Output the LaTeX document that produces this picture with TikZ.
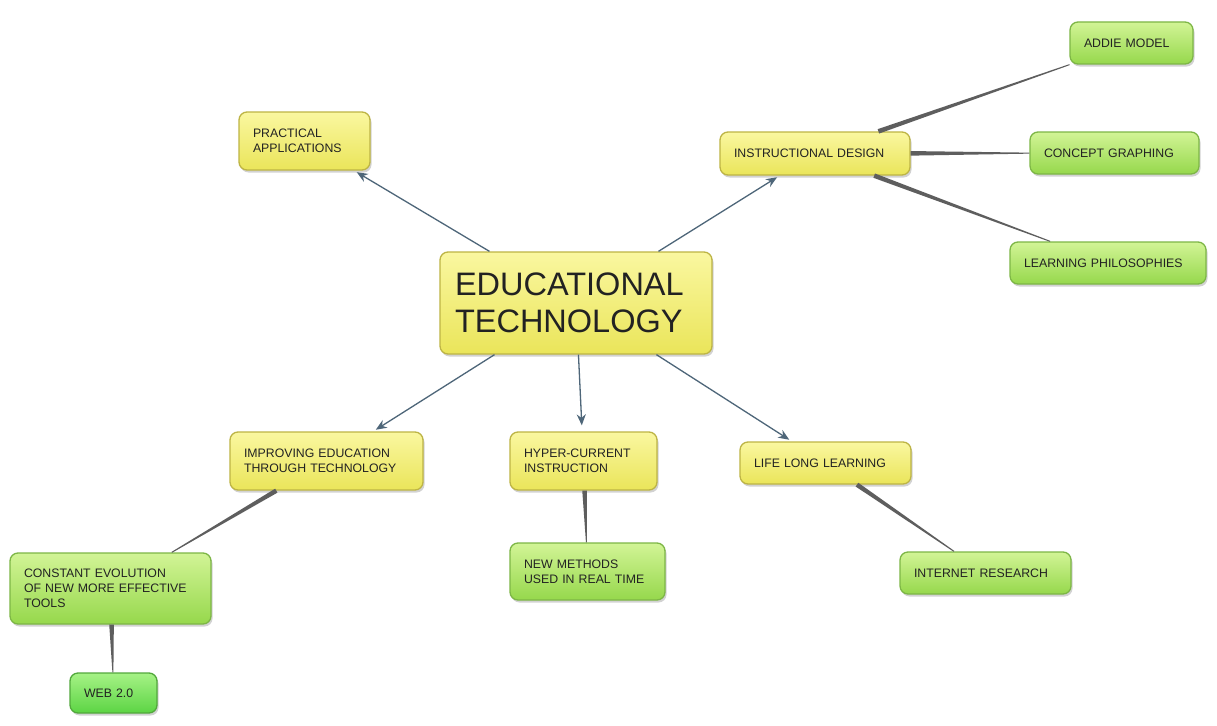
\documentclass[tikz,border=0pt]{standalone}
\usepackage{fontspec}
\setmainfont{Liberation Sans}
\usetikzlibrary{shadows,arrows.meta,calc}
\definecolor{arrowc}{HTML}{4E6679}
\definecolor{tapc}{HTML}{5E5E5E}
\definecolor{textc}{HTML}{222222}
\definecolor{ytop}{HTML}{FAF7A0}
\definecolor{ybot}{HTML}{EAE55A}
\definecolor{ybord}{HTML}{BDB445}
\definecolor{gtop}{HTML}{D2F496}
\definecolor{gbot}{HTML}{96D84C}
\definecolor{gbord}{HTML}{7DB646}
\definecolor{wtop}{HTML}{A6F286}
\definecolor{wbot}{HTML}{5CD444}
\definecolor{wbord}{HTML}{52A83C}
\tikzset{
  box/.style={rounded corners=8pt, line width=1.3pt, inner xsep=14pt, inner ysep=0pt,
    align=left, font=\fontsize{12.3}{15}\selectfont, text=textc,
    drop shadow={shadow xshift=1.5pt, shadow yshift=-2.5pt, opacity=0.35}},
  ybox/.style={box, draw=ybord, top color=ytop, bottom color=ybot},
  gbox/.style={box, draw=gbord, top color=gtop, bottom color=gbot},
  wbox/.style={box, draw=wbord, top color=wtop, bottom color=wbot},
  arr/.style={draw=arrowc, line width=1.3pt, -{Stealth[length=11pt,width=9pt]}, shorten >=3pt},
  tap/.style={fill=tapc},
}
\newcommand\taperline[4]{%
  \path (#1) -- (#2) coordinate[pos=0] (tS) coordinate[pos=1] (tE);
  \fill[tap] ($(tS)!#3!90:(tE)$) -- ($(tE)!#4!-90:(tS)$) -- ($(tE)!#4!90:(tS)$) -- ($(tS)!#3!-90:(tE)$) -- cycle;
}
\begin{document}
\begin{tikzpicture}[x=1pt,y=-1pt]
\useasboundingbox[fill=white] (0,0) rectangle (1217,725);

\node[ybox, minimum width=272pt, minimum height=102pt, text width=242pt, inner xsep=15pt,
  font=\fontsize{32.5}{37}\selectfont] (edu) at (576,303) {EDUCATIONAL\\TECHNOLOGY};

\node[ybox, minimum width=131pt, minimum height=58pt, text width=103pt] (prac) at (304.5,141) {PRACTICAL\\APPLICATIONS};
\node[ybox, minimum width=190pt, minimum height=43pt, text width=162pt] (instr) at (815,153.5) {INSTRUCTIONAL DESIGN};
\node[gbox, minimum width=123pt, minimum height=42pt, text width=95pt] (addie) at (1131.5,43) {ADDIE MODEL};
\node[gbox, minimum width=169pt, minimum height=42pt, text width=141pt] (concept) at (1114.5,153) {CONCEPT GRAPHING};
\node[gbox, minimum width=196pt, minimum height=42pt, text width=168pt] (learn) at (1108,263) {LEARNING PHILOSOPHIES};

\node[ybox, minimum width=193pt, minimum height=58pt, text width=165pt] (impr) at (326.5,461) {IMPROVING EDUCATION\\THROUGH TECHNOLOGY};
\node[ybox, minimum width=147pt, minimum height=58pt, text width=119pt] (hyper) at (583.5,461) {HYPER-CURRENT\\INSTRUCTION};
\node[ybox, minimum width=171pt, minimum height=42pt, text width=143pt] (life) at (825.5,463) {LIFE LONG LEARNING};

\node[gbox, minimum width=201pt, minimum height=71pt, text width=173pt] (const) at (110.5,588.5) {CONSTANT EVOLUTION\\OF NEW MORE EFFECTIVE\\TOOLS};
\node[wbox, minimum width=87pt, minimum height=40pt, text width=59pt] (web) at (113.5,693) {WEB 2.0};
\node[gbox, minimum width=155pt, minimum height=57pt, text width=127pt] (newm) at (587.5,571.5) {NEW METHODS\\USED IN REAL TIME};
\node[gbox, minimum width=171pt, minimum height=42pt, text width=143pt] (inet) at (985.5,573) {INTERNET RESEARCH};

\draw[arr] (edu) -- (prac);
\draw[arr] (edu) -- (instr);
\draw[arr] (edu) -- (impr);
\draw[arr, shorten >=6pt] (edu) -- (hyper);
\draw[arr] (edu) -- (life);

\taperline{instr}{addie}{2.3pt}{0.5pt}
\taperline{instr}{concept}{2.3pt}{0.5pt}
\taperline{instr}{learn}{2.3pt}{0.5pt}
\taperline{impr}{const}{2.3pt}{0.5pt}
\taperline{const}{web}{2.3pt}{0.5pt}
\taperline{hyper}{newm}{2.3pt}{0.5pt}
\taperline{life}{inet}{2.3pt}{0.5pt}
\end{tikzpicture}
\end{document}
